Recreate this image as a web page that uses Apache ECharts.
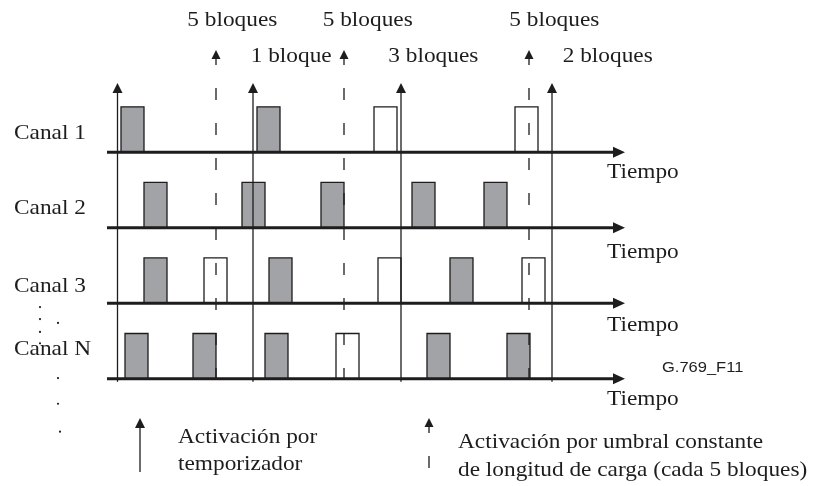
<!DOCTYPE html>
<html>
<head>
<meta charset="utf-8">
<script src="https://cdn.jsdelivr.net/npm/echarts@6/dist/echarts.min.js"></script>
<style>
  html, body { margin: 0; background: #fff; }
  #main { width: 816px; height: 486px; }
</style>
</head>
<body>
<div id="main"></div>
<script>
// canales
const channels = ['Canal 1', 'Canal 2', 'Canal 3', 'Canal N'];
const timeLabel = 'Tiempo';

// inicio de cada bloque (unidades de tiempo) y tipo: g = gris, w = blanco
const blocks1 = [[14, 'g'], [150, 'g'], [267, 'w'], [408, 'w']];
const blocks2 = [[37, 'g'], [135, 'g'], [214, 'g'], [305, 'g'], [377, 'g']];
const blocks3 = [[37, 'g'], [97, 'w'], [162, 'g'], [271, 'w'], [343, 'g'], [415, 'w']];
const blocksN = [[18, 'g'], [86, 'g'], [158, 'g'], [229, 'w'], [320, 'g'], [400, 'g']];
const blockLen = 23;

// instantes de activacion
const timerTimes = [10.5, 146, 294, 445];
const thresholdTimes = [109, 237, 422];

// textos
const thresholdLabels = ['5 bloques', '5 bloques', '5 bloques'];
const timerLabels = ['1 bloque', '3 bloques', '2 bloques'];
const legendTimer = ['Activación por', 'temporizador'];
const legendThreshold = ['Activación por umbral constante', 'de longitud de carga (cada 5 bloques)'];
const figureId = 'G.769_F11';

const INK = '#1e1c1d';
const SERIF = '"Liberation Serif", "Times New Roman", serif';
const BLOCK_H = 0.6;
const TIMER_TOP = -0.915;
const THRESH_TOP = -1.351;
const LINE_BOTTOM = 3.04;
const AXIS_END = 518;

const chart = echarts.init(document.getElementById('main'));

const blockData = [];
[blocks1, blocks2, blocks3, blocksN].forEach(function (list, row) {
  list.forEach(function (b) {
    blockData.push([b[0], row, b[1] === 'w' ? 1 : 0]);
  });
});

// posiciones de los textos (tiempo, fila)
const labelData = [];
function addLabel(t, y, text, opts) {
  labelData.push(Object.assign({ value: [t, y], name: text }, opts || {}));
}
const channelY = [-0.246, 0.74, 1.78, 2.61];
channels.forEach(function (c, i) { addLabel(-93, channelY[i], c); });
const tiempoY = [0.27, 1.33, 2.295, 3.27];
tiempoY.forEach(function (y) { addLabel(500, y, timeLabel); });
const threshLabelT = [80.3, 215.7, 402.3];
thresholdLabels.forEach(function (s, i) { addLabel(threshLabelT[i], -1.748, s); });
const timerLabelT = [143.7, 281.3, 455.7];
timerLabels.forEach(function (s, i) { addLabel(timerLabelT[i], -1.272, s); });
addLabel(71, 3.77, legendTimer[0]);
addLabel(71, 4.128, legendTimer[1]);
addLabel(351, 3.837, legendThreshold[0]);
addLabel(351, 4.207, legendThreshold[1]);
addLabel(555, 2.853, figureId, { sans: true });

// puntos suspensivos
const dots = [[-67, 2.05], [-67, 2.21], [-67, 2.38], [-67, 2.53], [-49, 2.26], [-49, 2.99], [-49, 3.33], [-47, 3.70]];

function renderBlock(params, api) {
  const a = api.coord([api.value(0), api.value(1)]);
  const b = api.coord([api.value(0) + blockLen, api.value(1) - BLOCK_H]);
  return {
    type: 'rect',
    shape: { x: a[0], y: b[1], width: b[0] - a[0], height: a[1] - b[1] },
    style: { fill: api.value(2) ? '#ffffff' : '#a1a3a6', stroke: INK, lineWidth: 1.3 }
  };
}

function arrow(t, topY, botY, dashed, head, half) {
  return function (api) {
    const top = api.coord([t, topY]);
    const bot = api.coord([t, botY]);
    return {
      type: 'group',
      children: [
        {
          type: 'line',
          shape: { x1: top[0], y1: top[1] + head, x2: bot[0], y2: bot[1] },
          style: dashed
            ? { stroke: INK, lineWidth: 1.3, lineDash: [12, 23], lineDashOffset: 6 }
            : { stroke: INK, lineWidth: 1.3 }
        },
        {
          type: 'polygon',
          shape: { points: [[top[0], top[1]], [top[0] - half, top[1] + head], [top[0] + half, top[1] + head]] },
          style: { fill: INK }
        }
      ]
    };
  };
}

function renderTimer(params, api) {
  return arrow(api.value(0), TIMER_TOP, LINE_BOTTOM, false, 10, 5)(api);
}
function renderThreshold(params, api) {
  return arrow(api.value(0), THRESH_TOP, LINE_BOTTOM, true, 9, 4.5)(api);
}
function renderLegendArrow(params, api) {
  return arrow(api.value(0), api.value(1), api.value(2), api.value(3) === 1, api.value(3) ? 9 : 10, api.value(3) ? 4.5 : 5)(api);
}

function renderAxis(params, api) {
  const a = api.coord([0, api.value(0)]);
  const b = api.coord([AXIS_END, api.value(0)]);
  return {
    type: 'group',
    children: [
      { type: 'line', shape: { x1: a[0], y1: a[1], x2: b[0] - 10, y2: b[1] }, style: { stroke: INK, lineWidth: 3 } },
      { type: 'polygon', shape: { points: [[b[0], b[1]], [b[0] - 12, b[1] - 5.5], [b[0] - 12, b[1] + 5.5]] }, style: { fill: INK } }
    ]
  };
}

function renderLabel(params, api) {
  const item = labelData[params.dataIndex];
  const p = api.coord([api.value(0), api.value(1)]);
  return {
    type: 'text',
    x: p[0],
    y: p[1],
    scaleX: item.sans ? 1.1 : 1.06,
    style: {
      text: item.name,
      fontFamily: item.sans ? '"Liberation Sans", Arial, sans-serif' : SERIF,
      fontSize: item.sans ? 15 : 22,
      fill: INK,
      align: 'left',
      verticalAlign: 'middle'
    }
  };
}

function renderDot(params, api) {
  const p = api.coord([api.value(0), api.value(1)]);
  return { type: 'circle', shape: { cx: p[0], cy: p[1], r: 1.1 }, style: { fill: INK } };
}

chart.setOption({
  animation: false,
  grid: { left: 107, right: 191, top: 1, bottom: 1.4 },
  xAxis: { type: 'value', min: 0, max: AXIS_END, show: false },
  yAxis: { type: 'value', min: -2, max: 4.4, inverse: true, show: false },
  series: [
    { type: 'custom', name: 'bloques', renderItem: renderBlock, data: blockData, z: 2 },
    { type: 'custom', name: 'temporizador', renderItem: renderTimer, data: timerTimes.map(function (t) { return [t]; }), z: 3 },
    { type: 'custom', name: 'umbral', renderItem: renderThreshold, data: thresholdTimes.map(function (t) { return [t]; }), z: 3 },
    { type: 'custom', name: 'tiempo', renderItem: renderAxis, data: channels.map(function (c, i) { return [i]; }), z: 4 },
    {
      type: 'custom', name: 'leyenda', renderItem: renderLegendArrow, z: 3,
      data: [[33, 3.519, 4.233, 0], [322, 3.519, 4.20, 1]]
    },
    { type: 'custom', name: 'textos', renderItem: renderLabel, data: labelData, z: 5 },
    { type: 'custom', name: 'puntos', renderItem: renderDot, data: dots, z: 5 }
  ]
});
</script>
</body>
</html>
